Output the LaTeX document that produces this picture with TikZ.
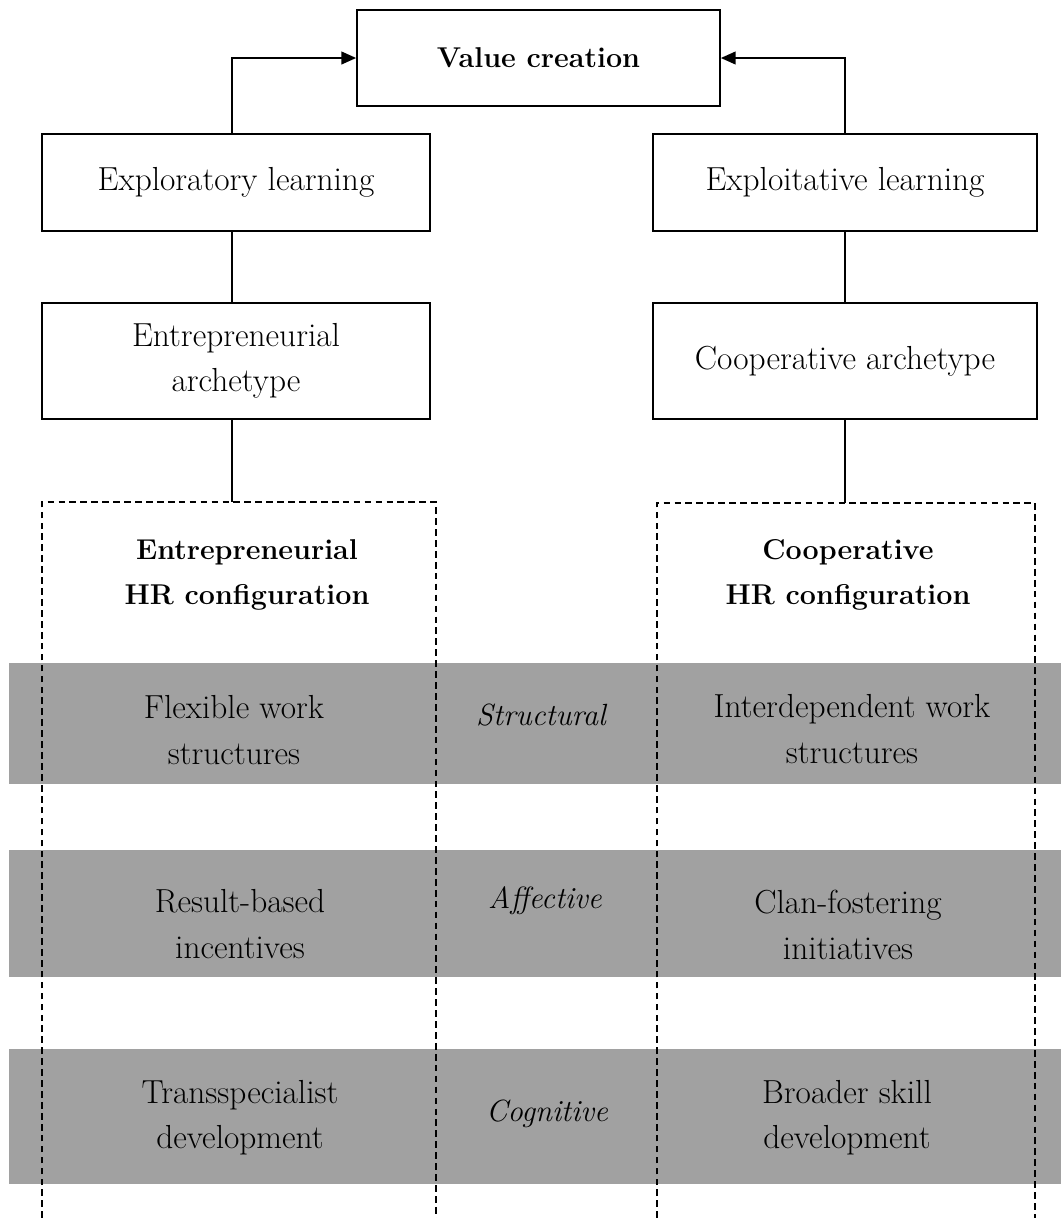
\documentclass[tikz,border=0pt]{standalone}
\usetikzlibrary{arrows.meta}
\definecolor{bandgray}{RGB}{161,161,161}
\begin{document}
\begin{tikzpicture}[x=0.75pt,y=-0.75pt,
  every node/.style={font=\fontsize{25}{34}\selectfont, align=center, inner sep=0pt},
  box/.style={draw, line width=1.3pt, fill=white},
  boldtxt/.style={font=\fontsize{21.5}{34}\selectfont\bfseries},
  dimtxt/.style={font=\fontsize{23}{34}\selectfont\itshape},
  conn/.style={line width=1.3pt},
  arr/.style={line width=1.3pt, -{Triangle[length=11pt,width=9.5pt]}},
  dashline/.style={line width=1.1pt, dash pattern=on 5pt off 3.2pt},
  band/.style={fill=bandgray, draw=none}
]
\useasboundingbox (0,0) rectangle (1061,1218);

% grey bands
\fill[band] (9,663) rectangle (1061,784);
\fill[band] (9,850) rectangle (1061,977);
\fill[band] (9,1049) rectangle (1061,1184);

% top boxes
\node[box, boldtxt, minimum width=272.25pt, minimum height=72pt] (vc) at (538.5,58) {Value creation};
\node[box, minimum width=291pt, minimum height=72.75pt] (expl) at (236,182.5) {Exploratory learning};
\node[box, minimum width=288pt, minimum height=72.75pt] (exploit) at (845,182.5) {Exploitative learning};
\node[box, minimum width=291pt, minimum height=87pt] (ent) at (236,361) {Entrepreneurial\\archetype};
\node[box, minimum width=288pt, minimum height=87pt] (coop) at (845,361) {Cooperative archetype};

% dashed configuration frames (open at the bottom)
\draw[dashline] (42,1218) -- (42,502) -- (436,502) -- (436,1218);
\draw[dashline] (657,1218) -- (657,503) -- (1035,503) -- (1035,1218);
\coordinate (dlt) at (232,502);
\coordinate (drt) at (845,503);

% connectors
\draw[arr] ([xshift=-3pt]expl.north) |- (vc.west);
\draw[arr] (exploit.north) |- (vc.east);
\draw[conn] ([xshift=-3pt]expl.south) -- ([xshift=-3pt]ent.north);
\draw[conn] (exploit.south) -- (coop.north);
\draw[conn] ([xshift=-3pt]ent.south) -- (dlt);
\draw[conn] (coop.south) -- (drt);

% configuration titles
\node[boldtxt] (entHR) at (247,575) {Entrepreneurial\\HR configuration};
\node[boldtxt] (coopHR) at (848,575) {Cooperative\\HR configuration};

% band contents
\node (flex) at (234,730) {Flexible work\\structures};
\node[dimtxt] (struct) at (541,715) {Structural};
\node (inter) at (852,729) {Interdependent work\\structures};

\node (result) at (240,924) {Result-based\\incentives};
\node[dimtxt] (affect) at (545,901) {Affective};
\node (clan) at (848,925) {Clan-fostering\\initiatives};

\node (trans) at (240,1118) {Transspecialist\\development};
\node[dimtxt] (cogn) at (547,1114) {Cognitive};
\node (broad) at (847,1118) {Broader skill\\development};
\end{tikzpicture}
\end{document}
